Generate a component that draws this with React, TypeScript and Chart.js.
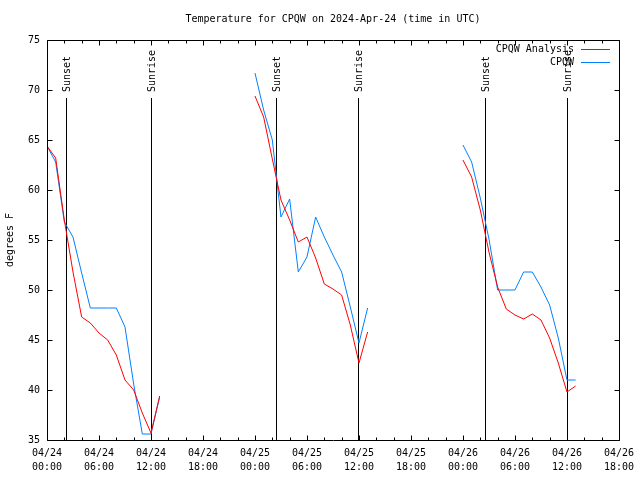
import React, { useEffect, useRef } from 'react';
import { Chart, registerables } from 'chart.js';

Chart.register(...registerables);

// ---- data (hours since 2024-04-24 00:00 UTC) ----
const seg1Hours = [0, 1, 2, 3, 4, 5, 6, 7, 8, 9, 10, 11, 12, 13];
const analysis1 = [64.4, 63.2, 57.0, 51.8, 47.3, 46.7, 45.7, 45.0, 43.5, 41.0, 40.0, 37.7, 35.7, 39.4];
const obs1 = [64.4, 62.8, 56.8, 55.3, 51.7, 48.2, 48.2, 48.2, 48.2, 46.3, 40.6, 35.6, 35.6, 39.3];

const seg2Hours = [24, 25, 26, 27, 28, 29, 30, 31, 32, 33, 34, 35, 36, 37];
const analysis2 = [69.4, 67.3, 63.1, 59.0, 57.0, 54.8, 55.3, 53.2, 50.6, 50.1, 49.5, 46.5, 42.7, 45.8];
const obs2 = [71.7, 68.0, 65.0, 57.3, 59.1, 51.8, 53.3, 57.3, 55.3, 53.5, 51.8, 48.3, 44.7, 48.2];

const seg3Hours = [48, 49, 50, 51, 52, 53, 54, 55, 56, 57, 58, 59, 60, 61];
const analysis3 = [63.0, 61.3, 58.0, 53.8, 50.3, 48.1, 47.5, 47.1, 47.6, 47.0, 45.2, 42.7, 39.8, 40.4];
const obs3 = [64.5, 62.8, 59.2, 55.1, 50.0, 50.0, 50.0, 51.8, 51.8, 50.3, 48.5, 45.2, 41.0, 41.0];

const sunHours = [2.2, 12.0, 26.4, 35.9, 50.6, 60.0];
const sunLabels = ['Sunset', 'Sunrise', 'Sunset', 'Sunrise', 'Sunset', 'Sunrise'];

const xTickDates = ['04/24', '04/24', '04/24', '04/24', '04/25', '04/25', '04/25', '04/25', '04/26', '04/26', '04/26', '04/26'];
const xTickTimes = ['00:00', '06:00', '12:00', '18:00', '00:00', '06:00', '12:00', '18:00', '00:00', '06:00', '12:00', '18:00'];

const seriesNames = ['CPQW Analysis', 'CPQW'];
const seriesColors = ['#ff0000', '#0080ff'];

const TITLE = 'Temperature for CPQW on 2024-Apr-24 (time in UTC)';
const FONT = 'DejaVu Sans Mono';

function buildPoints(segs: Array<[number[], number[]]>) {
  const out: Array<{ x: number; y: number | null }> = [];
  segs.forEach(([hrs, vals], i) => {
    if (i > 0) out.push({ x: hrs[0] - 0.5, y: null });
    hrs.forEach((h, j) => out.push({ x: h, y: vals[j] }));
  });
  return out;
}

const overlay = {
  id: 'overlay',
  beforeDatasetsDraw(chart: any) {
    const { ctx, chartArea: a, scales } = chart;
    const xs = scales.x;
    ctx.save();
    ctx.strokeStyle = '#000';
    ctx.lineWidth = 1;
    ctx.fillStyle = '#000';
    ctx.font = `10px "${FONT}"`;
    sunHours.forEach((h, i) => {
      const px = Math.round(xs.getPixelForValue(h)) + 0.5;
      ctx.beginPath();
      ctx.moveTo(px, a.top + 58);
      ctx.lineTo(px, a.bottom);
      ctx.stroke();
      ctx.save();
      ctx.translate(px + 0.5, a.top + 52);
      ctx.rotate(-Math.PI / 2);
      ctx.textAlign = 'left';
      ctx.textBaseline = 'middle';
      ctx.fillText(sunLabels[i], 0, 0);
      ctx.restore();
    });
    ctx.restore();
  },
  afterDraw(chart: any) {
    const { ctx, chartArea: a, scales } = chart;
    const xs = scales.x;
    const ys = scales.y;
    ctx.save();
    ctx.strokeStyle = '#000';
    ctx.lineWidth = 1;
    const L = Math.round(a.left) + 0.5;
    const R = Math.round(a.right) + 0.5;
    const T = Math.round(a.top) + 0.5;
    const B = Math.round(a.bottom) + 0.5;
    ctx.beginPath();
    ctx.rect(L, T, R - L, B - T);
    ctx.stroke();
    // x ticks (major every 6h, minor every 2h), mirrored on top
    ctx.beginPath();
    for (let h = 0; h <= 66; h += 2) {
      const len = h % 6 === 0 ? 5 : 3;
      const px = Math.round(xs.getPixelForValue(h)) + 0.5;
      ctx.moveTo(px, B);
      ctx.lineTo(px, B - len);
      ctx.moveTo(px, T);
      ctx.lineTo(px, T + len);
    }
    ys.ticks.forEach((t: any) => {
      const py = Math.round(ys.getPixelForValue(t.value)) + 0.5;
      ctx.moveTo(L, py);
      ctx.lineTo(L + 5, py);
      ctx.moveTo(R, py);
      ctx.lineTo(R - 5, py);
    });
    ctx.stroke();
    // title
    ctx.fillStyle = '#000';
    ctx.font = `10px "${FONT}"`;
    ctx.textAlign = 'center';
    ctx.textBaseline = 'middle';
    ctx.fillText(TITLE, (a.left + a.right) / 2, 19);
    // legend
    ctx.textAlign = 'right';
    seriesNames.forEach((name, i) => {
      const ly = 49 + i * 13;
      ctx.fillStyle = '#000';
      ctx.fillText(name, 574, ly);
      ctx.strokeStyle = seriesColors[i];
      ctx.beginPath();
      ctx.moveTo(581, ly + 0.5);
      ctx.lineTo(610, ly + 0.5);
      ctx.stroke();
    });
    ctx.restore();
  },
};

export default function App() {
  const ref = useRef<HTMLCanvasElement | null>(null);
  useEffect(() => {
    if (!ref.current) return;
    const chart = new Chart(ref.current, {
      type: 'line',
      data: {
        datasets: [
          {
            label: seriesNames[0],
            data: buildPoints([[seg1Hours, analysis1], [seg2Hours, analysis2], [seg3Hours, analysis3]]) as any,
            borderColor: seriesColors[0],
            borderWidth: 1,
            pointRadius: 0,
            tension: 0,
            spanGaps: false,
          },
          {
            label: seriesNames[1],
            data: buildPoints([[seg1Hours, obs1], [seg2Hours, obs2], [seg3Hours, obs3]]) as any,
            borderColor: seriesColors[1],
            borderWidth: 1,
            pointRadius: 0,
            tension: 0,
            spanGaps: false,
          },
        ],
      },
      options: {
        animation: false,
        responsive: false,
        layout: { padding: { top: 40, right: 20, left: 0, bottom: 0 } },
        plugins: { legend: { display: false }, title: { display: false }, tooltip: { enabled: false } },
        scales: {
          x: {
            type: 'linear',
            min: 0,
            max: 66,
            grid: { display: false, drawTicks: false },
            border: { display: false },
            afterFit: (s: any) => { s.height = 40; },
            ticks: {
              stepSize: 6,
              autoSkip: false,
              maxRotation: 0,
              padding: 6,
              color: '#000',
              font: { family: FONT, size: 10, lineHeight: 1.4 },
              callback: (v: any) => {
                const i = Math.round(Number(v) / 6);
                return [xTickDates[i], xTickTimes[i]];
              },
            },
          },
          y: {
            min: 35,
            max: 75,
            grid: { display: false, drawTicks: false },
            border: { display: false },
            afterFit: (s: any) => { s.width = 47; },
            title: {
              display: true,
              text: 'degrees F',
              color: '#000',
              font: { family: FONT, size: 10 },
              padding: { top: 4, bottom: 4 },
            },
            ticks: {
              stepSize: 5,
              padding: 7,
              color: '#000',
              font: { family: FONT, size: 10 },
            },
          },
        },
      },
      plugins: [overlay],
    });
    return () => chart.destroy();
  }, []);
  return (
    <div style={{ position: 'absolute', left: 0, top: 0, width: 640, height: 480, background: '#fff' }}>
      <canvas ref={ref} width={640} height={480} />
    </div>
  );
}
